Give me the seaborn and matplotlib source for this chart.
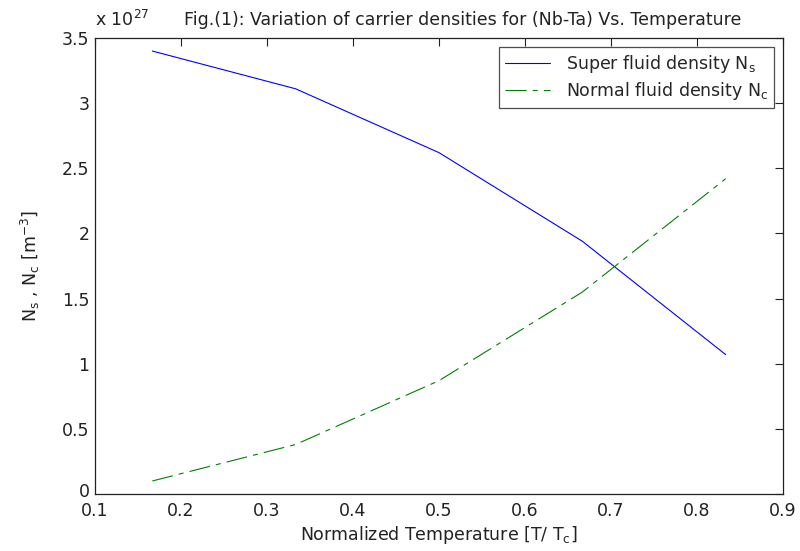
import matplotlib
matplotlib.use("Agg")
import matplotlib.pyplot as plt
import matplotlib.transforms as mtransforms
import seaborn as sns
import pandas as pd
import numpy as np

temps = [1/6, 2/6, 3/6, 4/6, 5/6]
super_fluid = [3.40, 3.11, 2.62, 1.94, 1.07]
normal_fluid = [0.10, 0.38, 0.87, 1.55, 2.42]
series_names = ["Super fluid density N$_s$", "Normal fluid density N$_c$"]
xticks = [0.1, 0.2, 0.3, 0.4, 0.5, 0.6, 0.7, 0.8, 0.9]
yticks = [0, 0.5, 1, 1.5, 2, 2.5, 3, 3.5]

sns.set_style("white")
plt.rcParams['font.family'] = ['DejaVu Sans']
plt.rcParams['mathtext.default'] = 'regular'
plt.rcParams['xtick.direction'] = 'in'
plt.rcParams['ytick.direction'] = 'in'

FS = 12.5
TC = '#222222'

df = pd.DataFrame({
    "T": temps * 2,
    "N": super_fluid + normal_fluid,
    "series": [series_names[0]] * len(temps) + [series_names[1]] * len(temps),
})

fig = plt.figure(figsize=(8, 5.51), dpi=100)
ax = fig.add_axes([95/800, 1 - 494/551, (783-95)/800, (494-38)/551])

sns.lineplot(data=df, x="T", y="N", hue="series", style="series",
             palette={series_names[0]: "#0000ff", series_names[1]: "#008000"},
             dashes={series_names[0]: "", series_names[1]: (19, 5.5, 4.5, 5.5)},
             linewidth=0.8, ax=ax, legend=True, sort=False)

ax.set_xlim(0.1, 0.9)
ax.set_ylim(0, 3.5)
ax.set_xticks(xticks)
ax.set_yticks(yticks)
ax.set_xticklabels([f"{v:g}" for v in xticks], fontsize=FS)
ylabels = ax.set_yticklabels([f"{v:g}" for v in yticks], fontsize=FS)
ax.tick_params(axis='both', which='both', direction='in', length=6, width=0.8,
               top=True, right=True, colors=TC, labelcolor=TC)
ax.tick_params(axis='y', pad=4)
ax.tick_params(axis='x', pad=6)
for s in ax.spines.values():
    s.set_visible(True)
    s.set_color(TC)
    s.set_linewidth(0.9)

# nudge the "0" y tick label up a little so it does not touch "0.1"
offset = mtransforms.ScaledTranslation(0, 3/72, fig.dpi_scale_trans)
ylabels[0].set_transform(ylabels[0].get_transform() + offset)

ax.set_xlabel("Normalized Temperature [T/ T$_c$]", fontsize=FS, color=TC, labelpad=3)
ax.set_ylabel("N$_s$ , N$_c$ [m$^{-3}$]", fontsize=FS, color=TC, labelpad=14)

fig.text(95/800, 1 - 20/551, "x 10$^{27}$", fontsize=FS, color=TC, va='center', ha='left')
fig.text(463/800, 1 - 20/551, "Fig.(1): Variation of carrier densities for (Nb-Ta) Vs. Temperature",
         fontsize=FS, color=TC, va='center', ha='center')

leg = ax.legend(loc='upper right', fontsize=FS, frameon=True, fancybox=False,
                edgecolor=TC, borderaxespad=0.5, handlelength=2.6,
                borderpad=0.35, labelspacing=0.3, handletextpad=0.9)
leg.get_frame().set_linewidth(0.9)

fig.savefig("out.png", dpi=100, facecolor='white')
